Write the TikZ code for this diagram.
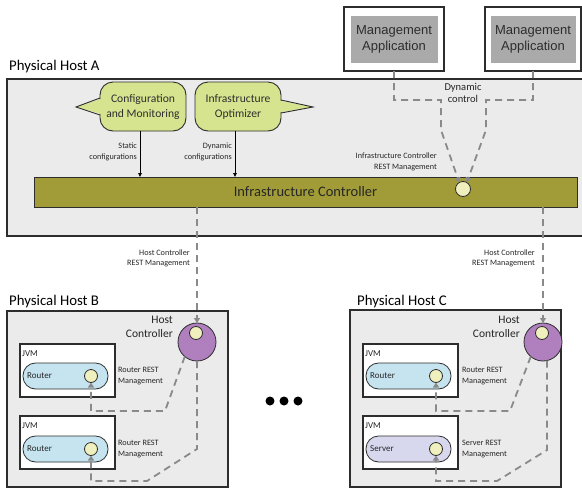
\documentclass[tikz,border=0pt]{standalone}
\usepackage{fontspec}
\setmainfont{Carlito}
\newfontfamily\arialf{Liberation Sans}
\usetikzlibrary{arrows.meta,calc}
\definecolor{bordc}{RGB}{45,45,45}
\definecolor{hostfill}{RGB}{235,235,235}
\definecolor{bubblefill}{RGB}{215,228,143}
\definecolor{barfill}{RGB}{162,156,56}
\definecolor{smallfill}{RGB}{240,240,190}
\definecolor{hcfill}{RGB}{176,128,190}
\definecolor{routerfill}{RGB}{197,228,240}
\definecolor{serverfill}{RGB}{215,215,238}
\definecolor{mafill}{RGB}{170,170,170}
\definecolor{dashc}{RGB}{138,138,138}
\begin{document}
\begin{tikzpicture}[x=1pt,y=-1pt,
  hostbox/.style={draw=bordc,fill=hostfill,line width=1.1pt,inner sep=0pt,outer sep=0pt},
  hostlabel/.style={font=\fontsize{14.8}{16}\selectfont,text=black,inner sep=0pt},
  maouter/.style={draw=bordc,fill=white,line width=1.1pt,inner sep=0pt,outer sep=0pt},
  mainner/.style={draw=white,fill=mafill,line width=1pt,inner sep=0pt,outer sep=0pt,align=center,font=\arialf\fontsize{13}{16}\selectfont,text=bordc},
  bubble/.style={draw=bordc,fill=bubblefill,line width=0.9pt,rounded corners=13pt,inner sep=0pt,outer sep=0pt,align=center,font=\fontsize{11.6}{15}\selectfont,text=bordc},
  barbox/.style={draw=bordc,fill=barfill,line width=0.9pt,inner sep=0pt,outer sep=0pt,font=\fontsize{14.5}{16}\selectfont,text=black!85},
  smallcirc/.style={circle,draw=bordc,fill=smallfill,line width=0.8pt,inner sep=0pt,outer sep=0pt},
  hc/.style={circle,draw=bordc,fill=hcfill,line width=0.8pt,inner sep=0pt,outer sep=0pt},
  jvm/.style={draw=bordc,fill=white,line width=1.1pt,inner sep=0pt,outer sep=0pt},
  pill/.style={draw=bordc,line width=0.8pt,rounded corners=12.5pt,inner sep=0pt,outer sep=0pt},
  smalltxt/.style={font=\fontsize{8.2}{10.5}\selectfont,text=black!85,inner sep=0pt},
  midtxt/.style={font=\fontsize{11.5}{13.5}\selectfont,text=black!85,inner sep=0pt},
  tinytxt/.style={font=\fontsize{9}{10}\selectfont,text=black!85,inner sep=0pt},
  dasharr/.style={draw=dashc,line width=1.8pt,dash pattern=on 7pt off 5pt,-{Triangle[length=5pt,width=6pt]}},
  solidarr/.style={draw=black,line width=0.8pt,-{Triangle[length=4pt,width=3.5pt]}},
  dotnode/.style={circle,fill=black,inner sep=0pt,minimum size=9pt}
]
\useasboundingbox (0,0) rectangle (582,488);

% ---------- Physical Host A ----------
\node[hostbox,minimum width=577pt,minimum height=157pt] (hostA) at (295.5,157.5) {};
\node[hostlabel,anchor=west] (labA) at (9,67) {Physical Host A};

% Management applications
\node[maouter,minimum width=100pt,minimum height=64pt] (maL) at (394,39) {};
\node[mainner,minimum width=88pt,minimum height=48pt] (maLi) at (394,39) {Management\\Application};
\node[maouter,minimum width=96pt,minimum height=64pt] (maR) at (533,39) {};
\node[mainner,minimum width=86pt,minimum height=48pt] (maRi) at (533,39) {Management\\Application};

% Bubbles
\node[bubble,minimum width=86pt,minimum height=49pt] (cm) at (143,106.5) {Configuration\\and Monitoring};
\fill[bubblefill] (102.5,98.5) -- (76,107) -- (102.5,114.5) -- cycle;
\draw[bordc,line width=0.9pt,line join=miter] (100,98) -- (76,107) -- (100,115);
\node[bubble,minimum width=86pt,minimum height=49pt] (io) at (238,106.5) {Infrastructure\\Optimizer};
\fill[bubblefill] (278.5,100.5) -- (313,107) -- (278.5,112.5) -- cycle;
\draw[bordc,line width=0.9pt,line join=miter] (281,100) -- (313,107) -- (281,113);

% Infrastructure controller bar
\node[barbox,minimum width=543pt,minimum height=30pt] (bar) at (305.5,192) {Infrastructure Controller};
\node[smallcirc,minimum size=15pt] (icr) at (463,189) {};

\draw[solidarr] ([xshift=-3pt]cm.south) -- ([xshift=-3pt]cm.south |- bar.north);
\draw[solidarr] ([xshift=-3pt]io.south) -- ([xshift=-3pt]io.south |- bar.north);
\node[smalltxt,anchor=east,align=right] (lstat) at (137,152) {Static\\configurations};
\node[smalltxt,anchor=east,align=right] (ldyn) at (232,152) {Dynamic\\configurations};
\node[smalltxt,anchor=east,align=right] (licr) at (437,162) {Infrastructure Controller\\REST Management};

% Dynamic control
\draw[dasharr] (maL.south) |- (441,100) -- (441,130) -- (icr.120);
\draw[dasharr] (maR.south) |- (486,100) -- (486,130) -- (icr.60);
\node[font=\fontsize{10.5}{12}\selectfont,text=black!85,align=center,inner sep=0pt] (ldc) at (463,93) {Dynamic\\control};

% ---------- Physical Host B ----------
\node[hostbox,minimum width=221pt,minimum height=176pt] (hostB) at (117.5,399) {};
\node[hostlabel,anchor=west] (labB) at (9,302) {Physical Host B};

\node[hc,minimum size=38pt] (hcB) at (197,342) {};
\node[smallcirc,minimum size=13pt] (hcBi) at (196,333) {};
\node[midtxt,anchor=east,align=right] (lhcB) at (173,327) {Host\\Controller};

\node[jvm,minimum width=95pt,minimum height=53pt] (jB1) at (67.5,370.5) {};
\node[tinytxt,anchor=west] (jB1l) at (22,354) {JVM};
\node[pill,fill=routerfill,minimum width=85pt,minimum height=26pt] (pB1) at (65.5,376) {};
\node[tinytxt,anchor=west] (pB1l) at (27,376) {Router};
\node[smallcirc,minimum size=13pt] (cB1) at (91,376) {};
\node[smalltxt,anchor=west,align=left] (rB1) at (118,376) {Router REST\\Management};

\node[jvm,minimum width=95pt,minimum height=53pt] (jB2) at (67.5,442.5) {};
\node[tinytxt,anchor=west] (jB2l) at (22,426) {JVM};
\node[pill,fill=routerfill,minimum width=85pt,minimum height=26pt] (pB2) at (65.5,449) {};
\node[tinytxt,anchor=west] (pB2l) at (27,449) {Router};
\node[smallcirc,minimum size=13pt] (cB2) at (91,449) {};
\node[smalltxt,anchor=west,align=left] (rB2) at (118,449) {Router REST\\Management};

% ---------- Physical Host C ----------
\node[hostbox,minimum width=211pt,minimum height=177pt] (hostC) at (455.5,398.5) {};
\node[hostlabel,anchor=west] (labC) at (357,302) {Physical Host C};

\node[hc,minimum size=38pt] (hcC) at (543,342) {};
\node[smallcirc,minimum size=13pt] (hcCi) at (542,333) {};
\node[midtxt,anchor=east,align=right] (lhcC) at (520,327) {Host\\Controller};

\node[jvm,minimum width=95pt,minimum height=53pt] (jC1) at (410.5,370.5) {};
\node[tinytxt,anchor=west] (jC1l) at (365,354) {JVM};
\node[pill,fill=routerfill,minimum width=85pt,minimum height=26pt] (pC1) at (408.5,376) {};
\node[tinytxt,anchor=west] (pC1l) at (370,376) {Router};
\node[smallcirc,minimum size=13pt] (cC1) at (436,376) {};
\node[smalltxt,anchor=west,align=left] (rC1) at (462,376) {Router REST\\Management};

\node[jvm,minimum width=95pt,minimum height=53pt] (jC2) at (410.5,442.5) {};
\node[tinytxt,anchor=west] (jC2l) at (365,426) {JVM};
\node[pill,fill=serverfill,minimum width=85pt,minimum height=26pt] (pC2) at (408.5,449) {};
\node[tinytxt,anchor=west] (pC2l) at (370,449) {Server};
\node[smallcirc,minimum size=13pt] (cC2) at (436,449) {};
\node[smalltxt,anchor=west,align=left] (rC2) at (462,449) {Server REST\\Management};

% ---------- Host controller connectors ----------
\draw[dasharr] (bar.south -| hcB) -- (hcB.north);
\draw[dasharr] (bar.south -| hcC) -- (hcC.north);
\node[smalltxt,anchor=east,align=right] (lhrB) at (190,258.5) {Host Controller\\REST Management};
\node[smalltxt,anchor=east,align=right] (lhrC) at (535,258.5) {Host Controller\\REST Management};

\draw[dasharr] (hcB.230) -- (165,411) -| (cB1.south);
\draw[dasharr] (hcB.south) -- (197,449) -- (147,481) -| (cB2.south);
\draw[dasharr] (hcC.230) -- (510,411) -| (cC1.south);
\draw[dasharr] (hcC.282) -- (547,450) -- (497,481) -| (cC2.south);

% ellipsis dots
\node[dotnode] (d1) at (270,401) {};
\node[dotnode] (d2) at (284,401) {};
\node[dotnode] (d3) at (298,401) {};
\end{tikzpicture}
\end{document}
